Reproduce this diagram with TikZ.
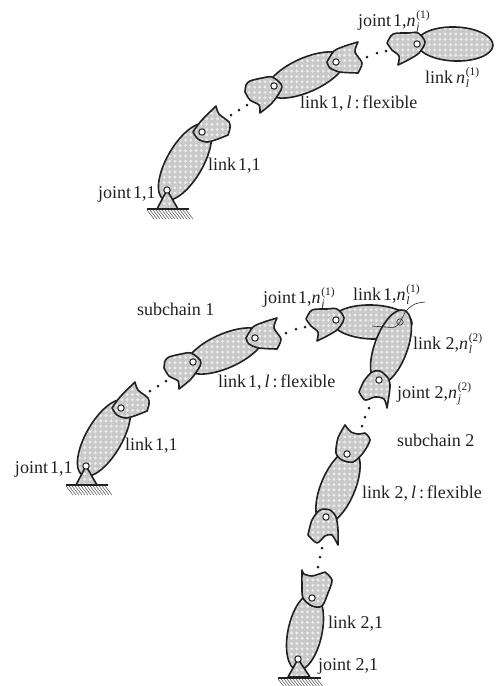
\documentclass[tikz,border=0pt]{standalone}
\usepackage{fontspec}
\setmainfont{Liberation Serif}
\usetikzlibrary{patterns.meta}
\definecolor{ink}{gray}{0.13}
\definecolor{body}{gray}{0.79}
\definecolor{spot}{gray}{0.93}
\newcommand\nsub[2]{\textit{n}\kern0.8pt\rlap{\raisebox{-0.55ex}{\fontsize{11.5}{11.5}\selectfont\textit{#1}}}\raisebox{0.95ex}{\fontsize{11.5}{11.5}\selectfont(#2)}}
\newcommand\ts{\hspace{2pt}}
\newcommand\hatchbar[3]{%
  \draw[groundline] (#1,#3) -- (#2,#3);
  \pgfmathsetmacro{\hstart}{#1+3}
  \pgfmathsetmacro{\hnext}{#1+6}
  \foreach \hx in {\hstart,\hnext,...,#2}
    \draw[hatchline] (\hx-3,#3+1) -- (\hx+4,#3+10);
}
\newcommand\holeat[2]{\draw[hole] (#1,#2) circle (3.2);}
\newcommand\linkat[5]{\draw[shell,rotate around={#3:(#1,#2)}] (#1,#2) ellipse [x radius=#4pt,y radius=#5pt];}
\newcommand\sharedchain{%
  \linkat{185}{162}{60}{43}{18}
  \draw[shell] (157,209) -- (167,190) -- (178,209) -- cycle;
  \hatchbar{147}{189}{209}
  \holeat{167}{190}
  \draw[shell] plot[smooth] coordinates {(193,132) (201,121) (216,106)}
     -- plot[smooth] coordinates {(216,106) (219,114) (229,122) (230,128) (228,135)}
     -- plot[smooth] coordinates {(228,135) (218,139) (207,142) (198,139) (193,132)} -- cycle;
  \holeat{202}{132}
  \fill[ink] (231,115) circle (1.5) (239,110) circle (1.5) (247,105) circle (1.5);
  \linkat{306}{75}{24}{42}{17}
  \draw[shell] plot[smooth] coordinates {(245,92) (246,85) (250,81) (262,78) (272,77) (281,84) (281,90) (272,103) (260,113)}
     -- plot[smooth] coordinates {(260,113) (259,105) (250,100) (245,92)} -- cycle;
  \holeat{274}{86}
  \fill[ink] (367,57) circle (1.5) (377,53) circle (1.5) (386,51) circle (1.5);
  \draw[shell] plot[smooth] coordinates {(327,62) (334,51) (345,46) (358,42)}
     -- plot[smooth] coordinates {(358,42) (355,52) (362,63) (358,73)}
     -- plot[smooth] coordinates {(358,73) (340,72) (330,68) (327,62)} -- cycle;
  \holeat{336}{62}
}
\newcommand\lasthousing{%
  \draw[shell] plot[smooth] coordinates {(387,43) (393,34) (408,33) (418,33) (425,42) (419,53) (408,60) (398,65)}
     -- plot[smooth] coordinates {(398,65) (399,56) (392,50) (387,43)} -- cycle;
  \holeat{417}{44}
}
\tikzset{
  shell/.style={draw=ink,line width=1.6pt,line join=round,
    preaction={fill=body},
    preaction={pattern={Dots[distance=5.3pt,radius=1.6pt]},pattern color=spot}},
  hole/.style={draw=ink,line width=1pt,fill=white},
  groundline/.style={draw=ink,line width=1.2pt},
  hatchline/.style={draw=ink!80,line width=0.5pt},
  thinline/.style={draw=ink,line width=0.6pt},
  tag/.style={anchor=base west,inner sep=0pt,outer sep=0pt,text=ink,font=\fontsize{18}{18}\selectfont}
}
\begin{document}
\begin{tikzpicture}[x=1pt,y=-1pt]
\useasboundingbox (0,0) rectangle (499,686);
% upper chain
\sharedchain
\linkat{455}{44}{-2}{38}{17}
\lasthousing
% lower figure, subchain 1
\begin{scope}[shift={(-81,276)}]
  \sharedchain
\end{scope}
% link 1,n
\linkat{372}{322}{-2}{40}{17}
\begin{scope}[shift={(-81,276)}]
  \lasthousing
\end{scope}
% link 2,n
\linkat{391}{347}{70}{39}{16.5}
\draw[thinline] (400,322) circle (3.2);
\draw[thinline] plot[smooth] coordinates {(372,326) (385,327) (395,327) (400,322) (406,311) (415,304) (425,302)};
% housing below link 2,n
\draw[shell] plot[smooth] coordinates {(359,392) (364,381) (372,372) (380,371) (388,378) (390,387) (387,408)}
   -- plot[smooth] coordinates {(387,408) (384,399) (375,397) (365,400) (359,392)} -- cycle;
\holeat{379}{380}
\fill[ink] (369,408) circle (1.5) (365,417) circle (1.5) (362,426) circle (1.5);
% link 2,l
\linkat{338}{487}{67}{40}{17}
% housing top of link 2,l
\draw[shell] plot[smooth] coordinates {(345,425) (351,432) (358,434) (365,433)}
   -- plot[smooth] coordinates {(365,433) (370,440) (363,453) (353,462) (342,460) (336,453) (338,438) (345,425)} -- cycle;
\holeat{347}{454}
% housing at bottom of link 2,l
\draw[shell] plot[smooth] coordinates {(308,535) (312,520) (320,510) (330,510) (336,517) (338,530) (338,545)}
   -- plot[smooth] coordinates {(338,545) (332,535) (325,536) (317,543) (308,535)} -- cycle;
\holeat{326}{517}
\fill[ink] (322,548) circle (1.5) (320,557) circle (1.5) (318,567) circle (1.5);
% link 2,1
\linkat{305}{632}{78}{39}{17}
% housing on link 2,1
\draw[shell] plot[smooth] coordinates {(302,570) (304,574) (312,576) (319,574) (325,572)}
   -- plot[smooth] coordinates {(325,572) (332,580) (328,593) (322,606) (312,606) (303,598) (302,585) (302,570)} -- cycle;
\holeat{312}{598}
% base of subchain 2
\draw[shell] (288,677) -- (298,659) -- (310,677) -- cycle;
\hatchbar{278}{321}{678}
\holeat{298}{659}
% labels: upper figure
\node[tag] (t1) at (358,26) {joint\ts 1,\nsub{j}{1}};
\node[tag] (t2) at (425,83) {link\hspace{3pt}\nsub{l}{1}};
\node[tag] (t3) at (300,108) {link\ts 1,\,\textit{l}\,:\,flexible};
\node[tag] (t4) at (208,170) {link\ts 1,1};
\node[tag] (t5) at (98,198) {joint\ts 1,1};
% labels: lower figure
\node[tag] (t6) at (137,315) {subchain\ 1};
\node[tag] (t7) at (263,303) {joint\ts 1,\nsub{j}{1}};
\node[tag] (t8) at (353,300) {link\ts 1,\nsub{l}{1}};
\node[tag] (t9) at (218,387) {link\ts 1,\,\textit{l}\,:\,flexible};
\node[tag] (t10) at (125,450) {link\ts 1,1};
\node[tag] (t11) at (15,473) {joint\ts 1,1};
\node[tag] (t12) at (413,349) {link 2,\nsub{l}{2}};
\node[tag] (t13) at (397,398) {joint 2,\nsub{j}{2}};
\node[tag] (t14) at (397,446) {subchain\ 2};
\node[tag] (t15) at (362,498) {link 2,\,\textit{l}\,:\,flexible};
\node[tag] (t16) at (328,628) {link 2,1};
\node[tag] (t17) at (318,670) {joint 2,1};
\end{tikzpicture}
\end{document}
